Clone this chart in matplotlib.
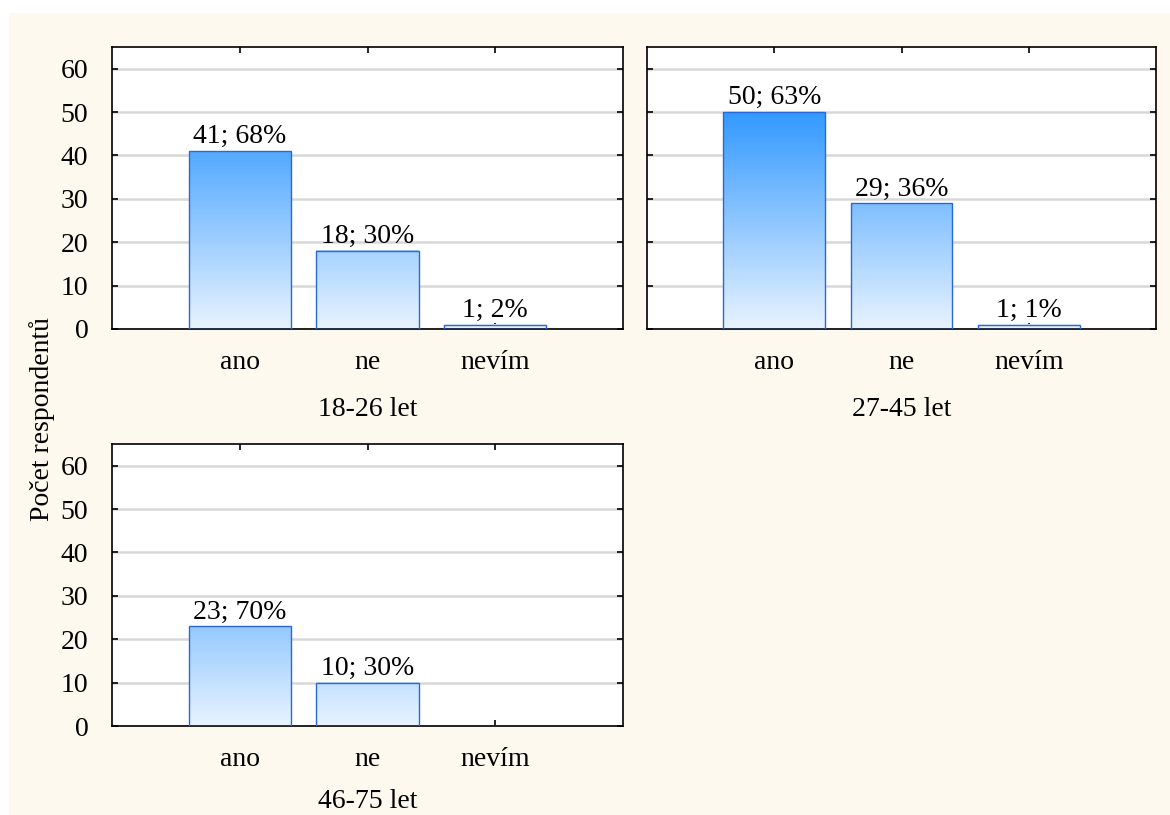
import numpy as np
import matplotlib.pyplot as plt
from matplotlib.colors import LinearSegmentedColormap
from matplotlib.patches import Rectangle

plt.rcParams['font.family'] = ['Liberation Serif', 'DejaVu Serif']

# data
categories = ['ano', 'ne', 'nevím']
groups = ['18-26 let', '27-45 let', '46-75 let']
counts = [
    [41, 18, 1],
    [50, 29, 1],
    [23, 10, 0],
]
percents = [
    [68, 30, 2],
    [63, 36, 1],
    [70, 30, 0],
]

fig = plt.figure(figsize=(11.7, 8.15), dpi=100, facecolor='white')
# cream panel behind everything
fig.patches.append(Rectangle((9 / 1170, 0), 1 - 9 / 1170, 1 - 13 / 815,
                             transform=fig.transFigure, facecolor='#fef9ee',
                             edgecolor='none', zorder=-10))

cmap = LinearSegmentedColormap.from_list('bluegrad', ['#e8f3ff', '#3399ff'])

W, H = 1170, 815
boxes = [(112, 47, 623, 329), (647, 47, 1156, 329), (112, 444, 623, 726)]

for i, (x0, y0, x1, y1) in enumerate(boxes):
    ax = fig.add_axes([x0 / W, (H - y1) / H, (x1 - x0) / W, (y1 - y0) / H])
    ax.set_facecolor('white')
    x = np.arange(len(categories))
    ymax = 65
    for xi, v, p in zip(x, counts[i], percents[i]):
        if v <= 0:
            continue
        # gradient fill, colour tied to the absolute y value
        grad = np.linspace(0, v / 50, 200).reshape(-1, 1)
        ax.imshow(grad, extent=(xi - 0.4, xi + 0.4, 0, v), origin='lower',
                  cmap=cmap, vmin=0, vmax=1, aspect='auto', zorder=2)
        ax.bar(xi, v, width=0.8, facecolor='none', edgecolor='#2a68d8',
               linewidth=1, zorder=3)
        ax.text(xi, v + 0.4, f'{v}; {p}%', ha='center', va='bottom',
                fontsize=20, zorder=4)
    ax.set_xlim(-1, 3)
    ax.set_ylim(0, ymax)
    ax.set_yticks(range(0, 61, 10))
    ax.set_xticks(x)
    ax.set_xticklabels(categories)
    ax.grid(axis='y', color='#d8d8d8', linewidth=1.8, zorder=1)
    ax.set_axisbelow(True)
    ax.tick_params(direction='in', length=4, width=1.2, labelsize=20,
                   top=True, right=True)
    ax.tick_params(axis='x', pad=15)
    ax.tick_params(axis='y', pad=17)
    if i == 1:
        ax.tick_params(axis='y', labelleft=False)
    for s in ax.spines.values():
        s.set_linewidth(1.2)
    # last panel label sits right at the bottom edge
    ax.set_xlabel(groups[i], fontsize=20, labelpad=16 if i < 2 else 12)

fig.text(42 / W, 1 - 419 / H, 'Počet respondentů', rotation=90,
         ha='center', va='center', fontsize=20)

fig.savefig('out.png', dpi=100, facecolor=fig.get_facecolor())
